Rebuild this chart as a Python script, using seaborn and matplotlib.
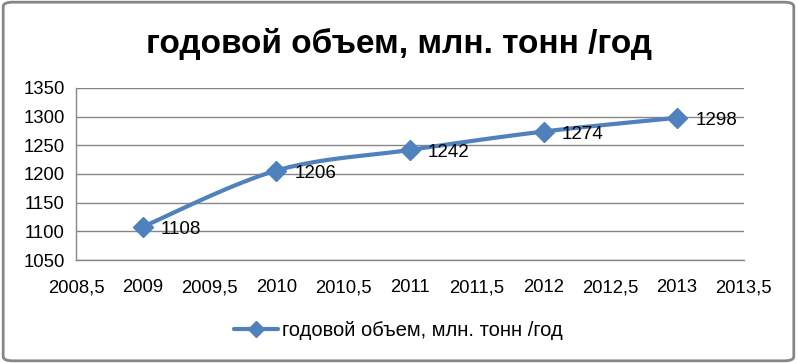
import numpy as np
import pandas as pd
import matplotlib
matplotlib.use("Agg")
import matplotlib.pyplot as plt
import seaborn as sns
from matplotlib.lines import Line2D
from matplotlib.patches import FancyBboxPatch
from matplotlib.ticker import FuncFormatter

# DATA
years  = [2009, 2010, 2011, 2012, 2013]
values = [1108, 1206, 1242, 1274, 1298]
series_name = "годовой объем, млн. тонн /год"

COLOR = "#4F81BD"
GRID  = "#868686"

sns.set_style("white")
plt.rcParams["font.family"] = ["Liberation Sans", "DejaVu Sans"]
plt.rcParams["text.color"] = "black"


def smooth_curve(x, y, steps=30):
    # Excel-like smoothing: cubic Bezier with Catmull-Rom control points
    x = np.asarray(x, dtype=float)
    y = np.asarray(y, dtype=float)
    px = np.concatenate([[x[0]], x, [x[-1]]])
    py = np.concatenate([[y[0]], y, [y[-1]]])
    xs, ys = [], []
    t = np.linspace(0, 1, steps)
    for i in range(1, len(px) - 2):
        p0 = np.array([px[i], py[i]])
        p3 = np.array([px[i + 1], py[i + 1]])
        c1 = p0 + (np.array([px[i + 1], py[i + 1]]) - np.array([px[i - 1], py[i - 1]])) / 6
        c2 = p3 - (np.array([px[i + 2], py[i + 2]]) - np.array([px[i], py[i]])) / 6
        pts = ((1 - t) ** 3)[:, None] * p0 + (3 * (1 - t) ** 2 * t)[:, None] * c1 \
            + (3 * (1 - t) * t ** 2)[:, None] * c2 + (t ** 3)[:, None] * p3
        xs.extend(pts[:, 0])
        ys.extend(pts[:, 1])
    return np.array(xs), np.array(ys)


df = pd.DataFrame({"year": years, "value": values})
sx, sy = smooth_curve(years, values)
curve = pd.DataFrame({"x": sx, "y": sy})

fig = plt.figure(figsize=(7.97, 3.63), dpi=100)
ax = fig.add_axes([0.0954, 0.2837, 0.838, 0.474])

sns.lineplot(data=curve, x="x", y="y", color=COLOR, linewidth=3, ax=ax,
             sort=False, estimator=None)
ax.plot(df["year"], df["value"], linestyle="none", marker="D", markersize=10,
        color=COLOR, zorder=5)

for xv, yv in zip(years, values):
    ax.annotate(str(yv), (xv, yv), xytext=(18, -3), textcoords="offset pixels",
                ha="left", va="center", fontsize=13.5, color="black")

ax.set_xlim(2008.5, 2013.5)
ax.set_ylim(1050, 1350)
ax.set_xticks(np.arange(2008.5, 2013.51, 0.5))
ax.set_yticks(np.arange(1050, 1351, 50))
ax.xaxis.set_major_formatter(FuncFormatter(lambda v, p: f"{v:g}".replace(".", ",")))
ax.yaxis.set_major_formatter(FuncFormatter(lambda v, p: f"{v:g}"))
ax.grid(axis="y", color=GRID, linewidth=1)
ax.grid(axis="x", visible=False)
for s in ["top", "right"]:
    ax.spines[s].set_visible(False)
for s in ["left", "bottom"]:
    ax.spines[s].set_color(GRID)
    ax.spines[s].set_linewidth(1)
ax.tick_params(axis="both", which="major", length=5, color=GRID,
               labelsize=13.3, labelcolor="black", direction="out")
ax.tick_params(axis="x", pad=9)
ax.tick_params(axis="y", pad=3)
ax.set_xlabel("")
ax.set_ylabel("")

fig.text(0.5, 0.88, series_name, ha="center", va="center",
         fontsize=24, fontweight="bold", color="black")

handle = Line2D([0], [0], color=COLOR, linewidth=3, marker="D", markersize=8)
fig.legend([handle], [series_name], loc="center", bbox_to_anchor=(0.5, 0.09),
           frameon=False, fontsize=14.5, handlelength=2.2, handletextpad=0.2)

border = FancyBboxPatch((0.004, 0.006), 0.992, 0.988,
                        boxstyle="round,pad=0,rounding_size=0.012",
                        transform=fig.transFigure, facecolor="none",
                        edgecolor=GRID, linewidth=2)
fig.patches.append(border)

fig.savefig("out.png", dpi=100, facecolor="white")
